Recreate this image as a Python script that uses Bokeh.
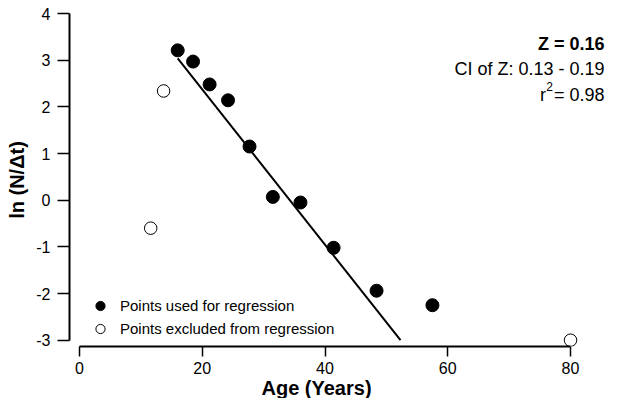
from bokeh.plotting import figure
from bokeh.models import Range1d, FixedTicker, Label, Title
from bokeh.embed import file_html
from bokeh.resources import INLINE

# ---- data ----
used_age = [16.0, 18.5, 21.2, 24.2, 27.7, 31.5, 36.0, 41.4, 48.4, 57.5]
used_ln = [3.21, 2.97, 2.48, 2.14, 1.15, 0.07, -0.05, -1.02, -1.94, -2.25]
excl_age = [11.6, 13.7, 80.0]
excl_ln = [-0.6, 2.34, -3.0]
fit_age = [16.0, 52.3]
fit_ln = [3.04, -3.0]
x_ticks = [0, 20, 40, 60, 80]
y_ticks = [-3, -2, -1, 0, 1, 2, 3, 4]
z_text = "Z = 0.16"
ci_text = "CI of Z: 0.13 - 0.19"
r2_text = "= 0.98"
x_title = "Age (Years)"
y_title = "ln (N/\u0394t)"
used_label = "Points used for regression"
excl_label = "Points excluded from regression"

FONT = "Liberation Sans"
W, H = 617, 398

p = figure(width=W, height=H, output_backend="svg", toolbar_location=None,
           x_range=Range1d(-1.63, 86.84), y_range=Range1d(-3.135, 4.0),
           min_border_left=69, min_border_right=5, min_border_top=13,
           min_border_bottom=52)
p.outline_line_color = None
p.grid.visible = False
p.background_fill_color = "white"
p.border_fill_color = "white"

for ax in (p.xaxis[0], p.yaxis[0]):
    ax.axis_line_width = 2
    ax.axis_line_color = "black"
    ax.major_tick_line_width = 1.5
    ax.major_tick_line_color = "black"
    ax.major_tick_in = 0
    ax.minor_tick_out = 0
    ax.minor_tick_in = 0
    ax.major_label_text_font = FONT
    ax.major_label_text_font_size = "16px"
    ax.major_label_text_color = "black"
    ax.axis_label_text_font = FONT
    ax.axis_label_text_font_size = "20px"
    ax.axis_label_text_font_style = "bold"
    ax.axis_label_text_color = "black"

xa = p.xaxis[0]
xa.ticker = FixedTicker(ticks=x_ticks)
xa.bounds = (x_ticks[0], x_ticks[-1])
xa.major_label_overrides = {t: str(t) for t in x_ticks}
xa.major_tick_out = 10
xa.major_label_standoff = 5

ya = p.yaxis[0]
ya.ticker = FixedTicker(ticks=y_ticks)
ya.bounds = (y_ticks[0], y_ticks[-1])
ya.major_label_overrides = {t: str(t) for t in y_ticks}
ya.major_tick_out = 12
ya.major_label_standoff = 7
ya.axis_label = y_title
ya.axis_label_standoff = 5

# x-axis title, centred under the 0-80 axis rather than the whole frame
p.add_layout(Title(text=x_title, align="left", offset=192, standoff=-3,
                   text_font=FONT, text_font_size="20px", text_font_style="bold",
                   text_color="black"), "below")

# regression line
p.line(fit_age, fit_ln, line_width=2, line_color="black")

# points
p.scatter(used_age, used_ln, marker="circle", size=13, fill_color="black",
          line_color="black", legend_label=used_label)
p.scatter(excl_age, excl_ln, marker="circle", size=12.5, fill_color="white",
          line_color="black", line_width=1, legend_label=excl_label)

lg = p.legend[0]
lg.location = (19, 6)
lg.glyph_width = 24
lg.glyph_height = 23
lg.label_height = 20
lg.spacing = 0
lg.padding = 0
lg.margin = 0
lg.border_line_color = None
lg.background_fill_alpha = 0
lg.label_text_font = FONT
lg.label_text_font_size = "15px"
lg.label_text_color = "black"
lg.label_standoff = 8

# statistics text
tx = 85.54
p.add_layout(Label(x=tx, y=3.357, text=z_text, text_font=FONT, text_font_size="18px",
                   text_font_style="bold", text_align="right", text_baseline="alphabetic",
                   text_color="black"))
p.add_layout(Label(x=tx, y=2.807, text=ci_text, text_font=FONT, text_font_size="18px",
                   text_align="right", text_baseline="alphabetic", text_color="black"))
p.add_layout(Label(x=tx, y=2.256, text=r2_text, text_font=FONT, text_font_size="18px",
                   text_align="right", text_baseline="alphabetic", text_color="black"))
p.add_layout(Label(x=tx, y=2.256, x_offset=-51.5, y_offset=8, text="2", text_font=FONT,
                   text_font_size="12px", text_align="right", text_baseline="alphabetic",
                   text_color="black"))
p.add_layout(Label(x=tx, y=2.256, x_offset=-58.5, text="r", text_font=FONT,
                   text_font_size="18px", text_align="right", text_baseline="alphabetic",
                   text_color="black"))

open("out.html", "w").write(file_html(p, INLINE))
